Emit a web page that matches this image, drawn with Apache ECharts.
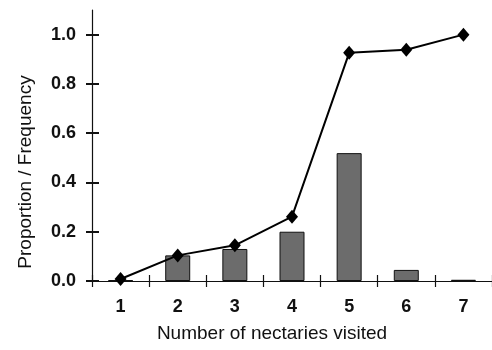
<!DOCTYPE html>
<html>
<head>
<meta charset="utf-8">
<script src="https://cdn.jsdelivr.net/npm/echarts@6/dist/echarts.min.js"></script>
<style>
  html, body { margin: 0; padding: 0; background: #fff; }
  #chart { width: 492px; height: 350px; }
</style>
</head>
<body>
<div id="chart"></div>
<script>
// Number of nectaries visited per foraging bout
var categories = ['1', '2', '3', '4', '5', '6', '7'];
// Frequency of bouts (bars)
var frequency = [0.003, 0.104, 0.13, 0.2, 0.519, 0.045, 0.005];
// Proportion (line with diamond markers)
var proportion = [0.008, 0.104, 0.145, 0.261, 0.926, 0.939, 1.0];
// Y tick positions and labels
var yTicks = [0, 0.2, 0.4, 0.6, 0.8, 1.0];

var FONT = '"Liberation Sans", Arial, sans-serif';
var INK = '#111';

var chart = echarts.init(document.getElementById('chart'));

var yBase = {
  type: 'value',
  min: 0,
  max: 1.1,
  position: 'left',
  splitLine: { show: false }
};

chart.setOption({
  animation: false,
  grid: { left: 92, right: -3, top: 10, bottom: 69, containLabel: false },
  xAxis: [{
    type: 'category',
    data: categories,
    boundaryGap: true,
    axisLine: { lineStyle: { color: INK, width: 1.2 } },
    axisTick: { show: true, length: 6, alignWithLabel: false, lineStyle: { color: INK, width: 1.2 } },
    axisLabel: { color: INK, fontFamily: FONT, fontSize: 18, fontWeight: 'bold', margin: 17 }
  }, {
    // inner half of the crossing category ticks
    type: 'category',
    data: categories,
    position: 'bottom',
    boundaryGap: true,
    axisLine: { show: false },
    axisTick: { show: true, inside: true, length: 6, lineStyle: { color: INK, width: 1.2 } },
    axisLabel: { show: false }
  }],
  yAxis: [Object.assign({}, yBase, {
    axisLine: { show: true, lineStyle: { color: INK, width: 1.2 } },
    axisTick: { show: true, length: 6, customValues: yTicks, lineStyle: { color: INK, width: 2 } },
    axisLabel: {
      color: INK, fontFamily: FONT, fontSize: 18, fontWeight: 'bold', margin: 16,
      customValues: yTicks,
      formatter: function (v) { return v.toFixed(1); }
    }
  }), Object.assign({}, yBase, {
    // inner half of the crossing value ticks
    axisLine: { show: false },
    axisTick: { show: true, inside: true, length: 7, customValues: yTicks, lineStyle: { color: INK, width: 2 } },
    axisLabel: { show: false }
  })],
  graphic: [{
    type: 'text',
    x: 272, y: 334,
    style: {
      text: 'Number of nectaries visited',
      font: '19px ' + FONT,
      fill: INK,
      align: 'center',
      verticalAlign: 'middle'
    }
  }, {
    type: 'text',
    x: 26, y: 172,
    rotation: Math.PI / 2,
    style: {
      text: 'Proportion / Frequency',
      font: '19px ' + FONT,
      fill: INK,
      align: 'center',
      verticalAlign: 'middle'
    }
  }],
  series: [{
    type: 'bar',
    data: frequency,
    barWidth: 25,
    itemStyle: { color: '#6c6c6c', borderColor: '#111', borderWidth: 1 }
  }, {
    type: 'line',
    data: proportion,
    symbol: 'diamond',
    symbolSize: [12, 14],
    lineStyle: { color: '#000', width: 2 },
    itemStyle: { color: '#000' },
    z: 5
  }]
});
</script>
</body>
</html>
